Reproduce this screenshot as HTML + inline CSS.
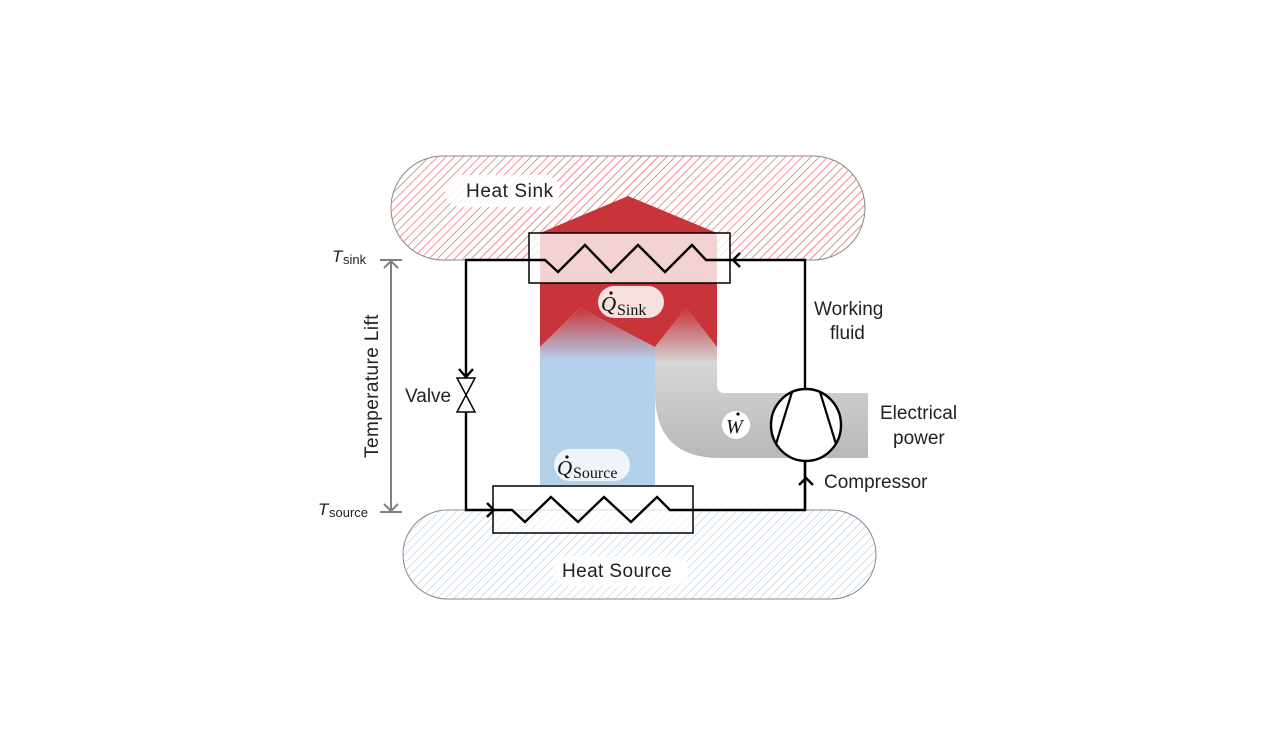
<!DOCTYPE html>
<html><head><meta charset="utf-8"><style>
html,body{margin:0;padding:0;background:#fff;}
svg{display:block;font-family:"Liberation Sans","DejaVu Sans",sans-serif;}
</style></head><body>
<svg width="1284" height="747" viewBox="0 0 1284 747" xmlns="http://www.w3.org/2000/svg">
<defs>
<pattern id="hr" patternUnits="userSpaceOnUse" width="6" height="6" patternTransform="rotate(45)">
<rect width="6" height="6" fill="#fff"/><line x1="0" y1="0" x2="0" y2="6" stroke="#e2474c" stroke-width="1.2"/></pattern>
<pattern id="hb" patternUnits="userSpaceOnUse" width="6" height="6" patternTransform="rotate(45)">
<rect width="6" height="6" fill="#fff"/><line x1="0" y1="0" x2="0" y2="6" stroke="#a9c3dd" stroke-width="1"/></pattern>
<linearGradient id="gb" x1="0" y1="0" x2="0" y2="1">
<stop offset="0" stop-color="#c8343a"/><stop offset="1" stop-color="#b4d1ea"/></linearGradient>
<linearGradient id="gg" x1="0" y1="0" x2="0" y2="1">
<stop offset="0" stop-color="#c8343a"/><stop offset="1" stop-color="#d4d4d4"/></linearGradient>
<linearGradient id="gh" x1="0" y1="0" x2="0" y2="1">
<stop offset="0" stop-color="#e0e0e0"/><stop offset="1" stop-color="#b8b8b8"/></linearGradient>
</defs>
<rect x="391" y="156" width="474" height="104" rx="52" fill="url(#hr)" stroke="#888" stroke-width="1"/>
<rect x="403" y="510" width="473" height="89" rx="44.5" fill="url(#hb)" stroke="#888" stroke-width="1"/>
<path d="M655 330 L717 330 L717 385 Q717 393 725 393 L868 393 L868 458 L720 458 Q655 458 655 393 Z" fill="url(#gh)"/>
<rect x="540" y="330" width="115" height="155" fill="#b4d1ea"/>
<polygon points="540,233 628,196 717,233 717,347 686,308 655,347 580,308 540,347" fill="#c8343a"/>
<polygon points="540,347 580,308 655,347 655,360 540,360" fill="url(#gb)"/>
<polygon points="655,347 686,308 717,347 717,362 655,362" fill="url(#gg)"/>
<rect x="529" y="233" width="201" height="50" fill="#fff" fill-opacity="0.78" stroke="#000" stroke-width="1.5"/>
<rect x="493" y="486" width="200" height="47" fill="#fff" fill-opacity="0.7" stroke="#000" stroke-width="1.5"/>
<g fill="none" stroke="#000" stroke-width="2.4">
<polyline points="805,510 805,260 730,260 706,260 692,245 665,272 638,245 611,272 585,245 558,272 545,260 466,260 466,378"/>
<polyline points="466,412 466,510 512,510 525,522 551,497 578,522 604,497 631,522 657,497 670,510 805,510 805,462"/>
<polyline points="740,253 733,260 740,267"/>
<polyline points="459,369 466,377 473,369"/>
<polyline points="487,503 494,510 487,517"/>
<polyline points="799,485 806,478 813,485"/>
</g>
<polygon points="457,378 475,378 466,395" fill="#fff" stroke="#000" stroke-width="1.5"/>
<polygon points="457,412 475,412 466,395" fill="#fff" stroke="#000" stroke-width="1.5"/>
<ellipse cx="806" cy="425" rx="35" ry="36" fill="#fff" stroke="#000" stroke-width="2.4"/>
<line x1="792" y1="392" x2="776" y2="444" stroke="#000" stroke-width="2.2"/>
<line x1="820" y1="392" x2="836" y2="444" stroke="#000" stroke-width="2.2"/>
<g stroke="#808080" stroke-width="2" fill="none">
<line x1="391" y1="261" x2="391" y2="511"/>
<polyline points="384,268 391,261 398,268"/>
<polyline points="384,504 391,511 398,504"/>
<line x1="380" y1="260" x2="402" y2="260"/>
<line x1="380" y1="512" x2="402" y2="512"/>
</g>
<rect x="445" y="175" width="115" height="32" rx="16" fill="#fff" opacity="0.9"/>
<rect x="598" y="286" width="66" height="32" rx="16" fill="#f6e0e0"/>
<rect x="554" y="449" width="76" height="32" rx="16" fill="#eef4fa"/>
<rect x="722" y="411" width="28" height="28" rx="14" fill="#fff"/>
<rect x="553" y="556" width="136" height="30" rx="15" fill="#fff" opacity="0.85"/>
<g font-size="19" fill="#222">
<text x="466" y="197" letter-spacing="0.6">Heat Sink</text>
<text x="562" y="577" letter-spacing="0.4">Heat Source</text>
<text x="814" y="315">Working</text>
<text x="830" y="339">fluid</text>
<text x="880" y="419">Electrical</text>
<text x="893" y="444">power</text>
<text x="824" y="488">Compressor</text>
<text x="405" y="402">Valve</text>
<text transform="translate(378,386) rotate(-90)" text-anchor="middle" letter-spacing="0.4">Temperature Lift</text>
</g>
<g font-family="Liberation Serif,serif" fill="#111">
<text x="601" y="311" font-size="21" font-style="italic">Q</text>
<text x="617" y="315" font-size="16">Sink</text>
<text x="557" y="475" font-size="21" font-style="italic">Q</text>
<text x="573" y="478" font-size="16">Source</text>
<text x="726" y="433" font-size="20" font-style="italic">W</text>
</g>
<circle cx="611" cy="293" r="1.6" fill="#111"/>
<circle cx="567" cy="457" r="1.6" fill="#111"/>
<circle cx="738" cy="414" r="1.6" fill="#111"/>
<g font-size="17" fill="#222">
<text x="332" y="262" font-style="italic">T</text><text x="343" y="264" font-size="13">sink</text>
<text x="318" y="515" font-style="italic">T</text><text x="329" y="517" font-size="13">source</text>
</g>
</svg>
</body></html>
